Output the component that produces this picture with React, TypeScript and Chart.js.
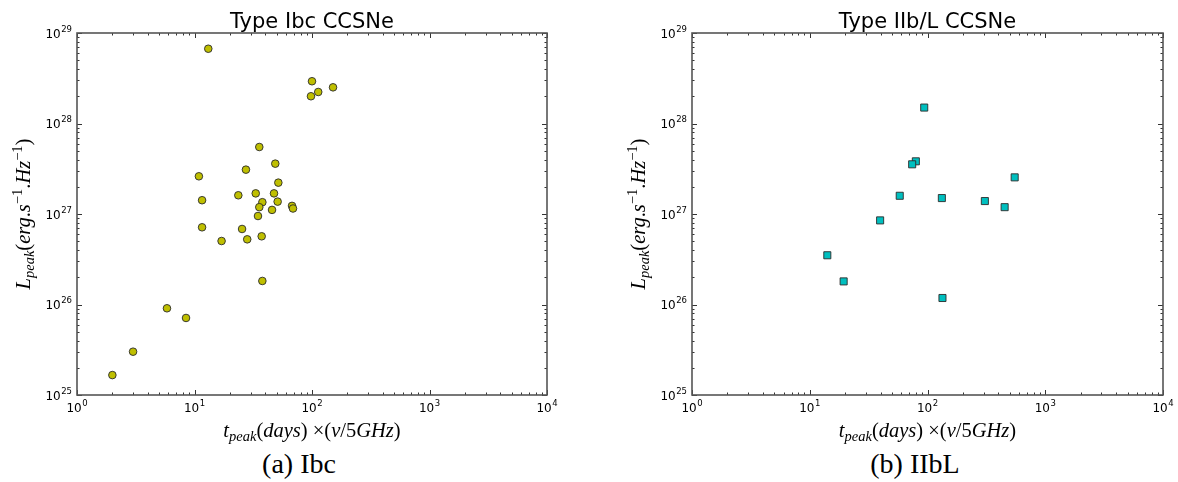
import { useEffect, useRef } from 'react';
import { Chart, registerables } from 'chart.js';

Chart.register(...registerables);

// Type Ibc: peak time (days, scaled to 5 GHz) and peak radio luminosity (erg/s/Hz)
const ibcDays = [
  13.1, 100, 98, 113, 151,
  35.6, 48.7, 27.4, 10.9, 51.7, 23.6, 33.2, 47.5, 11.6, 37.8, 51.0,
  35.6, 67.6, 68.9, 45.7, 34.7,
  11.6, 25.4, 17.0, 28.1, 37.3, 37.8, 5.83, 8.47, 3.0, 2.0,
];
const ibcLum = [
  6.7e28, 2.93e28, 2.0e28, 2.23e28, 2.51e28,
  5.5e27, 3.6e27, 3.09e27, 2.61e27, 2.22e27, 1.61e27, 1.69e27, 1.69e27, 1.42e27, 1.35e27, 1.37e27,
  1.19e27, 1.23e27, 1.15e27, 1.11e27, 9.5e26,
  7.13e26, 6.83e26, 5.03e26, 5.25e26, 5.67e26, 1.82e26, 9.08e25, 7.1e25, 3.01e25, 1.66e25,
];

// Type IIb/L
const iiblDays = [93.8, 79.6, 74.1, 550, 58.1, 132.4, 307, 452, 39.6, 14.1, 19.4, 134];
const iiblLum = [1.5e28, 3.82e27, 3.54e27, 2.54e27, 1.59e27, 1.5e27, 1.39e27, 1.19e27, 8.5e26, 3.5e26, 1.8e26, 1.18e26];

// Axis decades (labelled ticks)
const xDecades = [1, 10, 100, 1000, 10000];
const yDecades = [1e25, 1e26, 1e27, 1e28, 1e29];

const exponentOf = (v: number) => String(Math.round(Math.log10(v)));

type Seg = { t: string; s?: number; i?: boolean; dy?: number };
const MATH_FONT = '"Liberation Serif"';
const BASE = 20.5;

function drawRich(ctx: CanvasRenderingContext2D, segs: Seg[], cx: number, cy: number, vertical: boolean) {
  ctx.save();
  ctx.translate(cx, cy);
  if (vertical) ctx.rotate(-Math.PI / 2);
  ctx.fillStyle = '#000';
  ctx.textBaseline = 'alphabetic';
  ctx.textAlign = 'left';
  const fontOf = (sg: Seg) => `${sg.i ? 'italic ' : ''}${sg.s ?? BASE}px ${MATH_FONT}`;
  let total = 0;
  for (const sg of segs) {
    ctx.font = fontOf(sg);
    total += ctx.measureText(sg.t).width;
  }
  let x = -total / 2;
  for (const sg of segs) {
    ctx.font = fontOf(sg);
    ctx.fillText(sg.t, x, sg.dy ?? 0);
    x += ctx.measureText(sg.t).width;
  }
  ctx.restore();
}

const SUB = 14.5;
const xTitle: Seg[] = [
  { t: 't', i: true },
  { t: 'peak', i: true, s: SUB, dy: 4 },
  { t: '(' },
  { t: 'days', i: true },
  { t: ') ×(' },
  { t: 'ν', i: true },
  { t: '/5' },
  { t: 'GHz', i: true },
  { t: ')' },
];
const yTitle: Seg[] = [
  { t: 'L', i: true },
  { t: 'peak', i: true, s: SUB, dy: 4 },
  { t: '(' },
  { t: 'erg', i: true },
  { t: '.' },
  { t: 's', i: true },
  { t: '−1', s: SUB, dy: -8 },
  { t: '.' },
  { t: 'Hz', i: true },
  { t: '−1', s: SUB, dy: -8 },
  { t: ')' },
];

const BASE_TICK_FONT = '12px "DejaVu Sans"';
const EXP_TICK_FONT = '8.5px "DejaVu Sans"';

// "10" with a raised exponent; (x, y) is the baseline start of the base
function drawPower(ctx: CanvasRenderingContext2D, exp: string, x: number, y: number) {
  ctx.font = BASE_TICK_FONT;
  ctx.fillText('10', x, y);
  const w = ctx.measureText('10').width;
  ctx.font = EXP_TICK_FONT;
  ctx.fillText(exp, x + w + 0.5, y - 6);
}
function powerWidth(ctx: CanvasRenderingContext2D, exp: string) {
  ctx.font = BASE_TICK_FONT;
  const w = ctx.measureText('10').width;
  ctx.font = EXP_TICK_FONT;
  return w + 0.5 + ctx.measureText(exp).width;
}

// Frame, inward ticks on all four sides, decade labels, panel title and math axis titles
function framePlugin(title: string, yTitleX: number) {
  return {
    id: 'frame',
    afterDraw(chart: any) {
      const { ctx, chartArea: a, scales } = chart;
      const xs = scales.x;
      const ys = scales.y;
      ctx.save();
      ctx.strokeStyle = '#333';
      ctx.lineWidth = 1;
      const major = 5;
      const minor = 2.5;
      ctx.beginPath();
      for (let e = 0; e <= 4; e++) {
        for (let m = 1; m <= 9; m++) {
          const v = m * Math.pow(10, e);
          if (v > 10000) break;
          const px = Math.round(xs.getPixelForValue(v)) + 0.5;
          const len = m === 1 ? major : minor;
          ctx.moveTo(px, a.bottom); ctx.lineTo(px, a.bottom - len);
          ctx.moveTo(px, a.top); ctx.lineTo(px, a.top + len);
        }
      }
      for (let e = 25; e <= 29; e++) {
        for (let m = 1; m <= 9; m++) {
          const v = m * Math.pow(10, e);
          if (v > 1.0001e29) break;
          const py = Math.round(ys.getPixelForValue(v)) + 0.5;
          const len = m === 1 ? major : minor;
          ctx.moveTo(a.left, py); ctx.lineTo(a.left + len, py);
          ctx.moveTo(a.right, py); ctx.lineTo(a.right - len, py);
        }
      }
      ctx.stroke();
      ctx.strokeStyle = '#555';
      ctx.lineWidth = 1.6;
      ctx.strokeRect(a.left, a.top, a.right - a.left, a.bottom - a.top);

      // decade labels at the scales' tick positions
      ctx.fillStyle = '#000';
      ctx.textAlign = 'left';
      ctx.textBaseline = 'alphabetic';
      for (const t of xs.ticks) {
        const exp = exponentOf(t.value);
        const px = xs.getPixelForValue(t.value);
        drawPower(ctx, exp, px - powerWidth(ctx, exp) / 2, a.bottom + 17);
      }
      for (const t of ys.ticks) {
        const exp = exponentOf(t.value);
        const py = ys.getPixelForValue(t.value);
        drawPower(ctx, exp, a.left - 5 - powerWidth(ctx, exp), py + 4.5);
      }

      ctx.font = '21px "DejaVu Sans"';
      ctx.textAlign = 'center';
      ctx.fillText(title, (a.left + a.right) / 2, 28);
      ctx.restore();

      drawRich(ctx, xTitle, (a.left + a.right) / 2, 437, false);
      drawRich(ctx, yTitle, yTitleX, (a.top + a.bottom) / 2, true);
    },
  };
}

type PanelProps = {
  title: string;
  days: number[];
  lum: number[];
  width: number;
  axisWidth: number;
  padRight: number;
  yTitleX: number;
  pointStyle: string;
  radius: number;
  fill: string;
};

function Panel(p: PanelProps) {
  const ref = useRef<HTMLCanvasElement>(null);
  useEffect(() => {
    if (!ref.current) return;
    const points = p.days.map((d, k) => ({ x: d, y: p.lum[k] }));
    const chart = new Chart(ref.current, {
      type: 'scatter',
      data: {
        datasets: [
          {
            data: points,
            pointStyle: p.pointStyle as any,
            pointRadius: p.radius,
            backgroundColor: p.fill,
            borderColor: '#2a2a2a',
            borderWidth: 0.9,
          },
        ],
      },
      options: {
        responsive: false,
        animation: false,
        events: [],
        layout: { padding: { top: 33, right: p.padRight, bottom: 0, left: 0 } },
        plugins: { legend: { display: false }, tooltip: { enabled: false }, title: { display: false } },
        scales: {
          x: {
            type: 'logarithmic',
            min: 1,
            max: 10000,
            grid: { display: false, drawTicks: false },
            border: { display: false },
            afterBuildTicks: (s: any) => { s.ticks = xDecades.map((v) => ({ value: v })); },
            afterFit: (s: any) => { s.height = 50; },
            ticks: { display: false, autoSkip: false },
          },
          y: {
            type: 'logarithmic',
            min: 1e25,
            max: 1e29,
            grid: { display: false, drawTicks: false },
            border: { display: false },
            afterBuildTicks: (s: any) => { s.ticks = yDecades.map((v) => ({ value: v })); },
            afterFit: (s: any) => { s.width = p.axisWidth; },
            ticks: { display: false, autoSkip: false },
          },
        },
      },
      plugins: [framePlugin(p.title, p.yTitleX)],
    });
    return () => chart.destroy();
  }, []);
  return <canvas ref={ref} width={p.width} height={445} style={{ display: 'block', width: p.width, height: 445 }} />;
}

const captionStyle = {
  position: 'absolute' as const,
  top: 448,
  fontFamily: '"Liberation Serif", serif',
  fontSize: 28,
  lineHeight: '32px',
  color: '#000',
  textAlign: 'center' as const,
  width: 200,
  whiteSpace: 'nowrap' as const,
};

export default function App() {
  return (
    <div style={{ position: 'absolute', left: 0, top: 0, width: 1178, height: 482, background: '#fff', overflow: 'hidden' }}>
      <div style={{ position: 'absolute', left: 0, top: 0 }}>
        <Panel title="Type Ibc CCSNe" days={ibcDays} lum={ibcLum} width={600} axisWidth={77} padRight={53}
          yTitleX={30} pointStyle="circle" radius={3.8} fill="#bfbf00" />
      </div>
      <div style={{ position: 'absolute', left: 600, top: 0 }}>
        <Panel title="Type IIb/L CCSNe" days={iiblDays} lum={iiblLum} width={578} axisWidth={92} padRight={15}
          yTitleX={45} pointStyle="rect" radius={5} fill="#00bfbf" />
      </div>
      <div style={{ ...captionStyle, left: 299 - 100 }}>(a) Ibc</div>
      <div style={{ ...captionStyle, left: 915 - 100 }}>(b) IIbL</div>
    </div>
  );
}
